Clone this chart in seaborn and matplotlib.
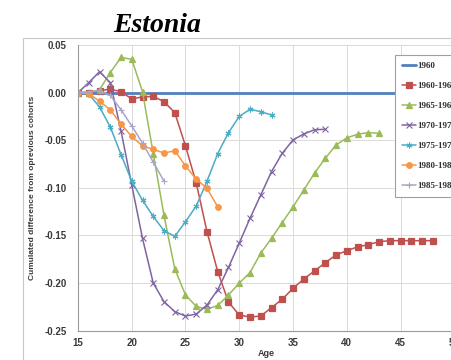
import numpy as np
import pandas as pd
import matplotlib
matplotlib.use("Agg")
import matplotlib.pyplot as plt
import seaborn as sns
from matplotlib.patches import Rectangle

# ---- data ----
ages_1960 = list(range(15, 49))
v_1960 = [0.0] * len(ages_1960)

ages_6064 = list(range(15, 49))
v_6064 = [0.000, 0.000, 0.002, 0.0036, 0.001, -0.0066, -0.0045, -0.0040, -0.0095, -0.021,
          -0.056, -0.095, -0.146, -0.188, -0.220, -0.2335, -0.2357, -0.2346, -0.2258, -0.217,
          -0.2055, -0.1957, -0.1873, -0.1786, -0.1705, -0.166, -0.162, -0.1597, -0.1565, -0.1555,
          -0.1555, -0.1555, -0.1555, -0.1555]

ages_6569 = list(range(15, 44))
v_6569 = [0.000, 0.000, 0.003, 0.021, 0.037, 0.035, 0.001, -0.064, -0.129, -0.185,
          -0.2125, -0.2245, -0.2275, -0.2235, -0.2125, -0.200, -0.189, -0.1685, -0.153, -0.1365,
          -0.120, -0.1025, -0.0845, -0.069, -0.055, -0.0476, -0.0437, -0.042, -0.0427]

ages_7074 = list(range(15, 39))
v_7074 = [0.000, 0.0105, 0.022, 0.0105, -0.040, -0.097, -0.153, -0.200, -0.2195, -0.230,
          -0.2346, -0.2325, -0.223, -0.207, -0.1835, -0.158, -0.132, -0.1075, -0.083, -0.0637,
          -0.0497, -0.0434, -0.039, -0.0385]

ages_7579 = list(range(15, 34))
v_7579 = [0.000, -0.0015, -0.015, -0.036, -0.065, -0.093, -0.113, -0.130, -0.145, -0.151,
          -0.1355, -0.119, -0.093, -0.064, -0.042, -0.025, -0.0175, -0.020, -0.0235]

ages_8084 = list(range(15, 29))
v_8084 = [0.000, -0.001, -0.009, -0.018, -0.033, -0.046, -0.056, -0.0595, -0.0635, -0.061,
          -0.077, -0.091, -0.1005, -0.120]

ages_8589 = list(range(15, 24))
v_8589 = [0.000, 0.001, 0.002, -0.003, -0.018, -0.035, -0.053, -0.073, -0.093]

labels = ["1960", "1960-1964", "1965-1969", "1970-1974", "1975-1979", "1980-1984", "1985-1989"]
x_ticks = [15, 20, 25, 30, 35, 40, 45, 50]
y_ticks = [0.05, 0.00, -0.05, -0.10, -0.15, -0.20, -0.25]

series = [
    (labels[0], ages_1960, v_1960, dict(color="#4F81BD", lw=2.0, marker=None)),
    (labels[1], ages_6064, v_6064, dict(color="#C0504D", lw=1.1, marker="s", ms=4.2)),
    (labels[2], ages_6569, v_6569, dict(color="#9BBB59", lw=1.1, marker="^", ms=4.2)),
    (labels[3], ages_7074, v_7074, dict(color="#8064A2", lw=1.1, marker="x", ms=3.8)),
    (labels[4], ages_7579, v_7579, dict(color="#4BACC6", lw=1.1, marker=(6, 2, 0), ms=4.2)),
    (labels[5], ages_8084, v_8084, dict(color="#F79646", lw=1.1, marker="o", ms=4.0)),
    (labels[6], ages_8589, v_8589, dict(color="#A9A4CC", lw=1.1, marker="+", ms=4.2)),
]

sns.set_theme(style="white")
plt.rcParams["font.family"] = ["Liberation Sans", "DejaVu Sans"]

fig = plt.figure(figsize=(4.51, 3.60), dpi=100)
ax = fig.add_axes([78 / 451, (360 - 330.7) / 360, 376.25 / 451, (330.7 - 45) / 360])

for lab, xs, ys, st in series:
    df = pd.DataFrame({"Age": xs, "val": ys})
    kw = dict(color=st["color"], linewidth=st["lw"], ax=ax, label=lab, legend=False)
    if st["marker"] is not None:
        mk = st["marker"]
        filled = mk in ("s", "^", "o")
        kw.update(marker=mk, markersize=st["ms"],
                  markeredgewidth=0.9 if filled else 0.8,
                  markeredgecolor=st["color"])
        if filled:
            kw.update(markerfacecolor=st["color"])
    sns.lineplot(data=df, x="Age", y="val", **kw)

ax.set_xlim(15, 50)
ax.set_ylim(-0.25, 0.05)
ax.set_xticks(x_ticks)
ax.set_yticks(y_ticks)
ax.set_xticklabels([str(t) for t in x_ticks], fontsize=7, fontweight="bold", color="#3A3A3A")
ax.set_yticklabels([f"{t:.2f}" for t in y_ticks], fontsize=7, fontweight="bold", color="#3A3A3A")
ax.tick_params(axis="x", length=0, pad=5)
ax.tick_params(axis="y", length=0, pad=8)
ax.grid(True, color="#DADADA", linewidth=0.7)
ax.set_axisbelow(True)
for s in ["top", "right"]:
    ax.spines[s].set_visible(False)
for s in ["left", "bottom"]:
    ax.spines[s].set_color("#9A9A9A")
    ax.spines[s].set_linewidth(0.8)
ax.set_xlabel("Age", fontsize=6.5, fontweight="bold", color="#3A3A3A", labelpad=1)
ax.set_ylabel("Cumulated difference from oprevious cohorts", fontsize=6, fontweight="bold",
              color="#3A3A3A", labelpad=6)

# chart area border
fig.patches.append(Rectangle((23 / 451, -0.2), 1.2, 0.2 + (360 - 38) / 360,
                             transform=fig.transFigure, fill=False,
                             edgecolor="#C8C8C8", linewidth=0.8, zorder=0))

fig.text(157.5 / 451, 1 - 31.5 / 360, "Estonia", ha="center", va="baseline",
         fontsize=20, fontweight="bold", fontstyle="italic",
         family=["Liberation Serif", "DejaVu Serif"], color="black")

handles, labs = ax.get_legend_handles_labels()
leg = ax.legend(handles, labs, loc="upper left", bbox_to_anchor=(395 / 451, 1 - 55 / 360),
                bbox_transform=fig.transFigure,
                prop=dict(family=["Liberation Serif", "DejaVu Serif"], weight="bold", size=6.5),
                frameon=True, fancybox=False, edgecolor="#A0A0A0", framealpha=1,
                labelspacing=1.3, handlelength=1.55, handletextpad=0.2, borderpad=0.75,
                borderaxespad=0)
leg.get_frame().set_linewidth(0.8)
for t in leg.get_texts():
    t.set_color("#303030")

fig.savefig("out.png", dpi=100)
